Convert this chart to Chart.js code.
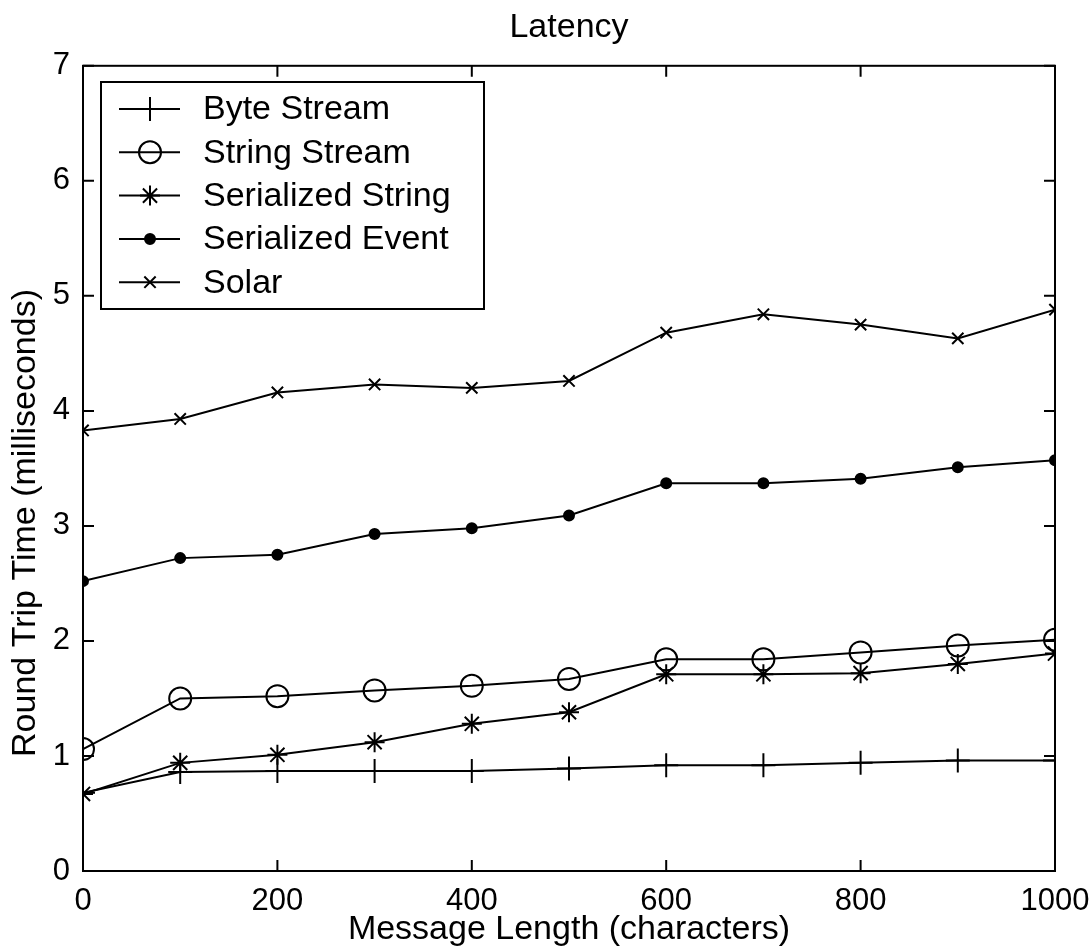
<!DOCTYPE html>
<html>
<head>
<meta charset="utf-8">
<script src="https://cdn.jsdelivr.net/npm/chart.js"></script>
<style>
  body { margin: 0; background: #fff; }
  canvas { display: block; }
</style>
</head>
<body>
<canvas id="latencyChart" width="1092" height="948"></canvas>
<script>
// message lengths (characters)
const lengths = [0, 100, 200, 300, 400, 500, 600, 700, 800, 900, 1000];

// round trip times (ms)
const byteStream = [0.68, 0.86, 0.87, 0.87, 0.87, 0.89, 0.92, 0.92, 0.94, 0.96, 0.96];
const stringStream = [1.06, 1.50, 1.52, 1.57, 1.61, 1.67, 1.84, 1.84, 1.90, 1.96, 2.01];
const serializedString = [0.67, 0.94, 1.01, 1.12, 1.28, 1.38, 1.71, 1.71, 1.72, 1.80, 1.89];
const serializedEvent = [2.52, 2.72, 2.75, 2.93, 2.98, 3.09, 3.37, 3.37, 3.41, 3.51, 3.57];
const solar = [3.83, 3.93, 4.16, 4.23, 4.20, 4.26, 4.68, 4.84, 4.75, 4.63, 4.88];

const xTicks = [0, 200, 400, 600, 800, 1000];
const yTicks = [0, 1, 2, 3, 4, 5, 6, 7];

const yTitle = 'Round Trip Time (milliseconds)';
const FONT = '"Liberation Sans", Arial, sans-serif';

const toPoints = (vals) => vals.map((v, i) => ({ x: lengths[i], y: v }));

function series(label, vals, style, radius, fill) {
  return {
    label: label,
    data: toPoints(vals),
    borderColor: '#000',
    borderWidth: 2,
    backgroundColor: fill,
    pointStyle: style,
    pointRadius: radius,
    pointHoverRadius: radius,
    pointBorderWidth: 2,
    pointBorderColor: '#000',
    pointBackgroundColor: fill,
    tension: 0
  };
}

// inward tick marks, closed box, legend inside the plot, rotated y label
const matlabLook = {
  id: 'matlabLook',
  afterDraw(chart) {
    const ctx = chart.ctx;
    const a = chart.chartArea;
    const xs = chart.scales.x, ys = chart.scales.y;
    const tl = 11;
    ctx.save();
    ctx.strokeStyle = '#000';
    ctx.lineWidth = 2;
    ctx.strokeRect(a.left, a.top, a.right - a.left, a.bottom - a.top);
    ctx.beginPath();
    xTicks.forEach(v => {
      const px = xs.getPixelForValue(v);
      ctx.moveTo(px, a.bottom); ctx.lineTo(px, a.bottom - tl);
      ctx.moveTo(px, a.top); ctx.lineTo(px, a.top + tl);
    });
    yTicks.forEach(v => {
      const py = ys.getPixelForValue(v);
      ctx.moveTo(a.left, py); ctx.lineTo(a.left + tl, py);
      ctx.moveTo(a.right, py); ctx.lineTo(a.right - tl, py);
    });
    ctx.stroke();

    // legend box
    const bx = 101, by = 82, bw = 383, bh = 227;
    ctx.fillStyle = '#fff';
    ctx.fillRect(bx, by, bw, bh);
    ctx.strokeRect(bx, by, bw, bh);
    ctx.font = '34px ' + FONT;
    ctx.textBaseline = 'middle';
    ctx.textAlign = 'left';
    chart.data.datasets.forEach((ds, i) => {
      const y = 109 + i * 43.3;
      ctx.strokeStyle = '#000';
      ctx.lineWidth = 2;
      ctx.beginPath();
      ctx.moveTo(119, y); ctx.lineTo(180, y);
      ctx.stroke();
      ctx.fillStyle = ds.pointBackgroundColor;
      Chart.helpers.drawPoint(ctx, {
        pointStyle: ds.pointStyle,
        radius: ds.pointRadius,
        borderWidth: 2,
        rotation: 0
      }, 150, y);
      ctx.fillStyle = '#000';
      ctx.fillText(ds.label, 203, y + 1);
    });

    // y axis title
    ctx.translate(26, 523);
    ctx.rotate(-Math.PI / 2);
    ctx.textAlign = 'center';
    ctx.fillText(yTitle, 0, 0);
    ctx.restore();
  }
};

new Chart(document.getElementById('latencyChart'), {
  type: 'line',
  data: {
    datasets: [
      series('Byte Stream', byteStream, 'cross', 12, '#000'),
      series('String Stream', stringStream, 'circle', 11, 'rgba(0,0,0,0)'),
      series('Serialized String', serializedString, 'star', 10, '#000'),
      series('Serialized Event', serializedEvent, 'circle', 5, '#000'),
      series('Solar', solar, 'crossRot', 8, '#000')
    ]
  },
  options: {
    responsive: false,
    animation: false,
    events: [],
    layout: { padding: { left: 0, right: 37, top: 0, bottom: 0 } },
    plugins: {
      legend: { display: false },
      tooltip: { enabled: false },
      title: {
        display: true,
        fullSize: false,
        text: 'Latency',
        color: '#000',
        font: { family: FONT, size: 34, weight: 'normal', lineHeight: 1.2 },
        padding: { top: 7, bottom: 18 }
      }
    },
    scales: {
      x: {
        type: 'linear',
        min: 0,
        max: 1000,
        afterFit(scale) {
          scale.height = 77;
          scale.paddingLeft = 0;
          scale.paddingRight = 0;
        },
        afterBuildTicks(scale) { scale.ticks = xTicks.map(v => ({ value: v })); },
        grid: { display: false, drawTicks: false },
        border: { display: true, color: '#000', width: 2 },
        ticks: {
          color: '#000',
          padding: 12,
          maxRotation: 0,
          font: { family: FONT, size: 31 },
          callback: (v) => String(v)
        },
        title: {
          display: true,
          text: 'Message Length (characters)',
          color: '#000',
          font: { family: FONT, size: 34, lineHeight: 1.1 },
          padding: { top: 0, bottom: 0 }
        }
      },
      y: {
        min: 0,
        max: 7,
        afterFit(scale) { scale.width = 83; },
        afterBuildTicks(scale) { scale.ticks = yTicks.map(v => ({ value: v })); },
        grid: { display: false, drawTicks: false },
        border: { display: true, color: '#000', width: 2 },
        ticks: {
          color: '#000',
          padding: 13,
          font: { family: FONT, size: 31 }
        }
      }
    }
  },
  plugins: [matlabLook]
});
</script>
</body>
</html>
